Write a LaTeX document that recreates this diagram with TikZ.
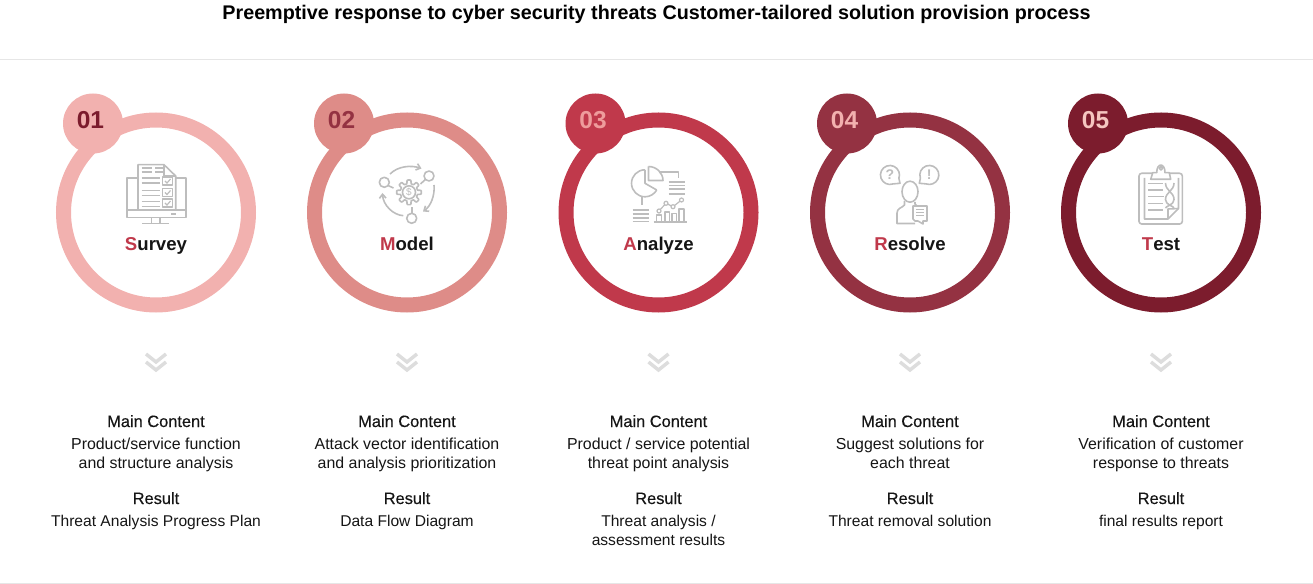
\documentclass[tikz,border=0pt]{standalone}
\usepackage{fontspec}
\setmainfont{Liberation Sans}
\usetikzlibrary{arrows.meta}
\definecolor{Ringone}{HTML}{F2B1AF}
\definecolor{Ringtwo}{HTML}{DE8C88}
\definecolor{Ringthree}{HTML}{C0394B}
\definecolor{Ringfour}{HTML}{943242}
\definecolor{Ringfive}{HTML}{7C1C2D}
\definecolor{Numthree}{HTML}{EE9C9C}
\definecolor{Numfive}{HTML}{F5C6C0}
\definecolor{Icongray}{HTML}{BDBDBD}
\definecolor{Rulegray}{HTML}{E6E6E6}
\definecolor{Chevgray}{HTML}{DDDDDD}
\definecolor{Inkblack}{HTML}{151515}
\newcommand{\pxfont}[1]{\fontsize{\the\dimexpr#1pt*3/4\relax}{14.25pt}\selectfont}
\newfontfamily\medfont[FakeBold=0.4]{Liberation Sans}
\tikzset{
    ring/.style={circle, draw=#1, line width=11.25pt, minimum size=138.75pt, inner sep=0pt},
    badge/.style={circle, fill=#1, minimum size=45pt, inner sep=0pt},
    numlabel/.style={text=#1, font=\pxfont{24.5}\bfseries},
    word/.style={font=\pxfont{18.6}\bfseries, text=Inkblack, anchor=base},
    headline/.style={font=\pxfont{16.4}\medfont, text=Inkblack, anchor=base},
    bodytext/.style={font=\pxfont{15.9}, text=Inkblack, align=center, anchor=north},
    resulttext/.style={bodytext, font=\pxfont{15.6}},
    ico/.style={draw=Icongray, line width=1.2pt, line join=round},
    icothin/.style={draw=Icongray, line width=0.9pt},
    chev/.style={draw=Chevgray, line width=2.6pt},
    rule/.style={draw=Rulegray, line width=0.75pt}
}

% icons, drawn around the middle of the ring
\newcommand{\iconSurvey}{
    \draw[ico] (-18,-34) -- (-29,-34) -- (-29,5.7) -- (29.7,5.7) -- (29.7,-34) -- (19.7,-34);
    \draw[ico] (-29,-2) -- (29.7,-2);
    \draw[ico] (-18,-2) -- (-18,-47.3) -- (8,-47.3) -- (19.7,-36) -- (19.7,-2);
    \draw[ico] (8,-47.3) -- (8,-36) -- (19.7,-36);
    \draw[ico] (-4.5,5.7) -- (-4.5,11.5) (4,5.7) -- (4,11.5);
    \draw[ico] (-14,11.5) -- (13,11.5);
    \draw[icothin] (15,2) -- (20,2);
    \foreach \yy in {-43.7,-39.7}{
        \draw[ico] (-14.5,\yy) -- (-4.5,\yy) (-1,\yy) -- (7,\yy);
    }
    \foreach \yy in {-33.7,-28.7,-21.3,-16.3,-10.3,-5.3}{
        \draw[ico] (-14.5,\yy) -- (4,\yy);
    }
    \foreach \yy in {-35,-23.5,-13}{
        \draw[ico] (6.5,\yy) rectangle (16.5,\yy+8);
        \draw[icothin] (9,\yy+4) -- (11,\yy+6) -- (14.5,\yy+2);
    }
}
\newcommand{\iconModel}{
    \draw[ico] plot[samples=145,domain=0:360] ({2+(10.5+1.8*min(1,max(-1,3*cos(8*\x))))*cos(\x)},{-19.7+(10.5+1.8*min(1,max(-1,3*cos(8*\x))))*sin(\x)}) -- cycle;
    \draw[ico] (2,-19.7) circle (6.5);
    \node (dollar) at (2,-19.7) {\textcolor{Icongray}{\pxfont{10}\$}};
    \draw[ico] (-22.7,-29.7) circle (5);
    \draw[ico] (22,-36) circle (5);
    \draw[ico] (4.7,6.3) circle (5);
    \draw[ico] (-19,-26.5) -- (-13.5,-24);
    \draw[ico] (18.3,-32.5) -- (13.5,-28);
    \draw[ico] (4.7,1.3) -- (4.7,-5);
    \draw[ico,-{Straight Barb[length=3pt,width=5pt]}] (-17,-38) .. controls (-9,-46) and (4,-47) .. (14.5,-43.5);
    \draw[ico,-{Straight Barb[length=3pt,width=5pt]}] (27,-27) .. controls (28,-17) and (24,-6) .. (16,-0.5);
    \draw[ico,-{Straight Barb[length=3pt,width=5pt]}] (-3.7,3.7) .. controls (-14,3) and (-24,-7) .. (-24.5,-19);
}
\newcommand{\iconAnalyze}{
    \draw[ico] (-13.5,-42.2) arc (-90:-330:13.5);
    \draw[ico] (-13.5,-42.2) -- (-13.5,-28.7) -- (-1.8,-22);
    \draw[ico] (-10,-45.5) -- (-10,-31.5) -- (4.5,-31.5) .. controls (4.5,-39) and (-2,-45.5) .. (-10,-45.5);
    \draw[ico] (1,-40) -- (20,-40) -- (20,-34);
    \foreach \yy in {-30,-26.5,-23,-18}{
        \draw[ico] (10,\yy) -- (26.5,\yy);
    }
    \draw[ico] (-16.5,-15) -- (-16.5,-7);
    \foreach \yy in {-2,2,6,9.7}{
        \draw[ico] (-25.8,\yy) -- (-9.2,\yy);
    }
    \draw[ico] (-5,10) -- (28,10);
    \draw[ico] (-2,10) -- (-2,3) -- (3,3) -- (3,10);
    \draw[ico] (6.5,10) -- (6.5,0) -- (11,0) -- (11,10);
    \draw[ico] (13.5,10) -- (13.5,1.5) -- (18,1.5) -- (18,10);
    \draw[ico] (20.5,10) -- (20.5,-3) -- (25.5,-3) -- (25.5,10);
    \draw[icothin] (0.5,-1) -- (7.5,-8.7) -- (14.5,-5.3) -- (23,-12);
    \foreach \px/\py in {0.5/-1,7.5/-8.7,14.5/-5.3,23/-12}{
        \draw[icothin,fill=white] (\px,\py) circle (2);
    }
}
\newcommand{\iconResolve}{
    \draw[ico] (-16.8,-28.1) arc (70:380:9.5) -- (-10,-28.7) -- cycle;
    \draw[ico] (10.4,-33.8) arc (160:470:9.5) -- (9.3,-28.7) -- cycle;
    \node (ask) at (-20,-37) {\textcolor{Icongray}{\pxfont{14}\textbf{?}}};
    \node (warn) at (19.3,-37) {\textcolor{Icongray}{\pxfont{14}\textbf{!}}};
    \draw[ico] (0,-20.3) ellipse (8 and 10.5);
    \draw[ico] (-5.5,-11) -- (-5.5,-7) .. controls (-8,-4) and (-13,-4) .. (-13,1) -- (-13,11.5) -- (5,11.5);
    \draw[ico] (5,-10) -- (5,-8) -- (7,-6);
    \draw[ico] (3,-6) -- (17,-6) -- (17,9) -- (13,9) -- (13,12) -- (8,9) -- (5,9) -- (3,7) -- cycle;
    \foreach \yy in {-2.5,0.5,3.5}{
        \draw[icothin] (6,\yy) -- (14,\yy);
    }
}
\newcommand{\iconTest}{
    \draw[ico,rounded corners=2pt] (-22,-38.7) rectangle (21.3,12);
    \draw[ico] (-16.5,-34) -- (-16.5,7) -- (7,7) -- (17.5,-3.5) -- (17.5,-34);
    \draw[ico] (7,7) -- (7,-3) -- (17.5,-3.5);
    \draw[ico,fill=white] (-10.3,-32.7) -- (-8.3,-39.3) -- (-4.3,-39.3) .. controls (-4.3,-49.5) and (4,-49.5) .. (4,-39.3) -- (8.3,-39.3) -- (9.7,-32.7) -- cycle;
    \draw[ico] (0,-43.7) circle (1.8);
    \foreach \yy/\xx in {-28.7/2,-22/2,-15.3/3,-8.7/2,-2/2}{
        \draw[icothin] (-13,\yy) -- (\xx,\yy);
    }
    \draw[ico] (4.5,-29) .. controls (4.5,-21) and (13,-20) .. (13,-12.5) .. controls (13,-7) and (5,-6) .. (4.5,-4);
    \draw[ico] (13,-29) .. controls (13,-21) and (4.5,-20) .. (4.5,-12.5) .. controls (4.5,-7) and (12.5,-6) .. (13,-4);
}

\begin{document}
\begin{tikzpicture}[x=0.75pt,y=-0.75pt]
    \useasboundingbox (0,0) rectangle (1313,584);
    \node[font=\pxfont{19.75}\bfseries, text=black] (title) at (656.5,14.5) {Preemptive response to cyber security threats Customer-tailored solution provision process};
    \coordinate (topleft) at (0,59.5);
    \coordinate (topright) at (1313,59.5);
    \coordinate (botleft) at (0,583.5);
    \coordinate (botright) at (1313,583.5);
    \draw[rule] (topleft) -- (topright);
    \draw[rule] (botleft) -- (botright);

    \foreach \n/\cx/\ringcol/\numcol/\letter/\others/\iconname/\mainbody/\resultbody in {
        1/156/Ringone/Ringfive/S/urvey/\iconSurvey/{Product/service function\\and structure analysis}/{Threat Analysis Progress Plan},
        2/407/Ringtwo/Ringfour/M/odel/\iconModel/{Attack vector identification\\and analysis prioritization}/{Data Flow Diagram},
        3/658.5/Ringthree/Numthree/A/nalyze/\iconAnalyze/{Product / service potential\\threat point analysis}/{Threat analysis /\\assessment results},
        4/910/Ringfour/Ringone/R/esolve/\iconResolve/{Suggest solutions for\\each threat}/{Threat removal solution},
        5/1161/Ringfive/Numfive/T/est/\iconTest/{Verification of customer\\response to threats}/{final results report}}{
        \node[ring=\ringcol] (ring\n) at (\cx,212.5) {};
        \node[badge=\ringcol] (badge\n) at (\cx-63,123.5) {};
        \node[numlabel=\numcol] (num\n) at (\cx-65.5,120) {0\n};
        \node[word] (word\n) at (\cx,251) {\textcolor{Ringthree}{\letter}\others};
        \begin{scope}[shift={(\cx,212)}]
            \iconname
        \end{scope}
        \draw[chev] (\cx-10,354) -- (\cx,362) -- (\cx+10,354);
        \draw[chev] (\cx-10,362) -- (\cx,370) -- (\cx+10,362);
        \node[headline] (main\n) at (\cx,427) {Main Content};
        \node[bodytext] (mainbody\n) at (\cx,433) {\mainbody};
        \node[headline] (result\n) at (\cx,504) {Result};
        \node[resulttext] (resultbody\n) at (\cx,510.5) {\resultbody};
    }
\end{tikzpicture}
\end{document}
